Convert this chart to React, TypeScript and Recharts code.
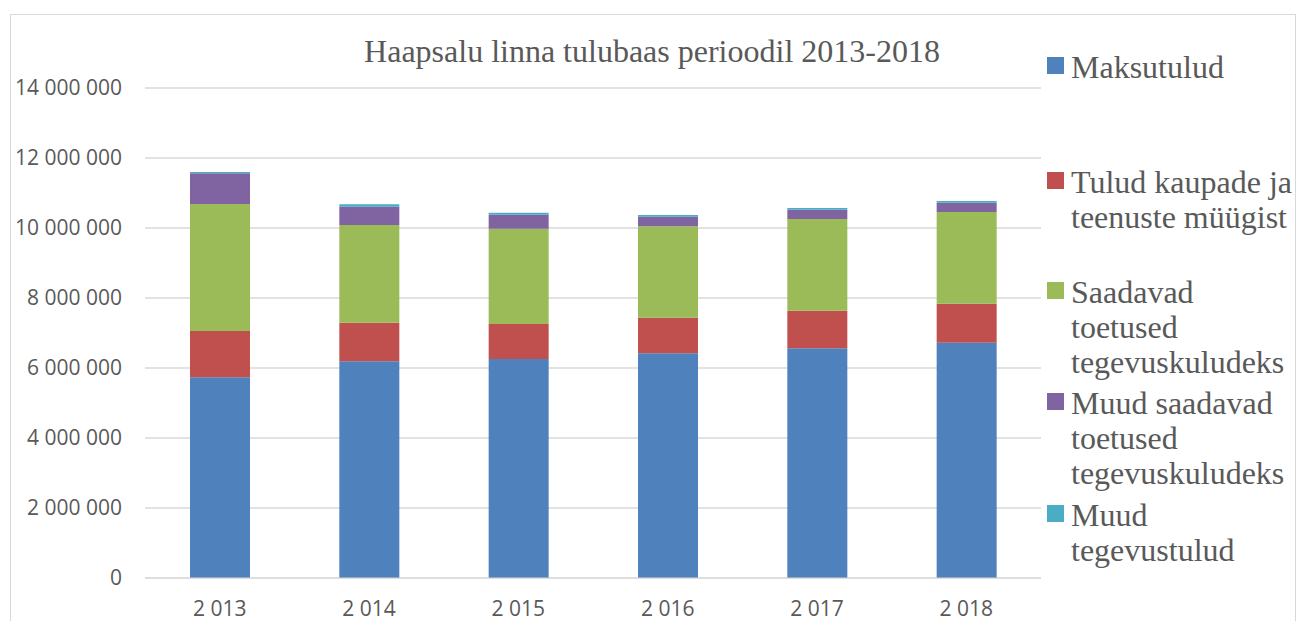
import { BarChart, Bar, XAxis, YAxis, CartesianGrid } from "recharts"

const years = ["2 013", "2 014", "2 015", "2 016", "2 017", "2 018"]
const maksutulud = [5734000, 6190000, 6257000, 6420000, 6562000, 6724000]
const kaupadeMyyk = [1323000, 1105000, 1000000, 1018000, 1076000, 1114000]
const toetused = [3629000, 2790000, 2723000, 2610000, 2619000, 2619000]
const muudToetused = [877000, 524000, 400000, 276000, 267000, 267000]
const muudTulud = [37000, 67000, 57000, 47000, 47000, 47000]
const yTicks = [0, 2000000, 4000000, 6000000, 8000000, 10000000, 12000000, 14000000]

const series = [
  { key: "maksutulud", name: "Maksutulud", color: "#4f81bd", values: maksutulud },
  { key: "kaup", name: "Tulud kaupade ja\nteenuste müügist", color: "#c0504d", values: kaupadeMyyk },
  { key: "toetused", name: "Saadavad\ntoetused\ntegevuskuludeks", color: "#9bbb59", values: toetused },
  { key: "muudToetused", name: "Muud saadavad\ntoetused\ntegevuskuludeks", color: "#8064a2", values: muudToetused },
  { key: "muudTulud", name: "Muud\ntegevustulud", color: "#4bacc6", values: muudTulud },
]

// legend rows sit where excel spread them, not evenly
const legendTops = [42, 157, 267, 378, 490]

const data = years.map((year, i) => {
  const row: Record<string, string | number> = { year }
  series.forEach((s) => (row[s.key] = s.values[i]))
  return row
})

const fmt = (v: number) => String(v).replace(/\B(?=(\d{3})+(?!\d))/g, " ")

const tickStyle = { fill: "#595959", fontSize: 21, fontFamily: "'Open Sans', sans-serif" }

function ExcelLegend() {
  return (
    <div style={{ position: "absolute", left: 1039, top: 0, width: 250, height: 600 }}>
      {series.map((s, i) => (
        <div
          key={s.key}
          style={{ position: "absolute", left: 0, top: legendTops[i], display: "flex" }}
        >
          <div style={{ width: 17, height: 17, background: s.color, marginTop: 7, marginRight: 7, flexShrink: 0 }} />
          <div
            style={{
              whiteSpace: "pre",
              fontFamily: "'Liberation Serif', serif",
              fontSize: 32,
              lineHeight: "35px",
              color: "#595959",
            }}
          >
            {s.name}
          </div>
        </div>
      ))}
    </div>
  )
}

export default function App() {
  // fixed so the page never grows a scrollbar
  return (
    <div style={{ position: "fixed", left: 0, top: 0, width: 1296, height: 621, overflow: "hidden", background: "#fff" }}>
      <div style={{ position: "absolute", left: 8, top: 8, width: 1288, height: 613, overflow: "hidden" }}>
        <div
          style={{
            position: "absolute",
            left: 2,
            top: 6,
            width: 1284,
            height: 700,
            border: "1px solid #d9d9d9",
          }}
        />
        <div style={{ position: "absolute", left: 0, top: 0 }}>
          <BarChart
            width={1288}
            height={613}
            data={data}
            margin={{ top: 80, right: 255, left: 0, bottom: 13 }}
            barSize={60}
          >
            <CartesianGrid vertical={false} stroke="#d9d9d9" strokeWidth={1.5} />
            <XAxis
              dataKey="year"
              height={30}
              stroke="#d9d9d9"
              tickLine={false}
              tickSize={0}
              tickMargin={23}
              tick={tickStyle}
            />
            <YAxis
              width={137}
              domain={[0, 14000000]}
              ticks={yTicks}
              axisLine={false}
              tickLine={false}
              tickSize={0}
              tickMargin={23}
              tickFormatter={fmt}
              tick={tickStyle}
            />
            {series.map((s) => (
              <Bar
                key={s.key}
                dataKey={s.key}
                name={s.name}
                stackId="a"
                fill={s.color}
                isAnimationActive={false}
              />
            ))}
          </BarChart>
        </div>
        <div
          style={{
            position: "absolute",
            left: 0,
            width: 1288,
            top: 25,
            textAlign: "center",
            fontFamily: "'Liberation Serif', serif",
            fontSize: 32,
            color: "#595959",
          }}
        >
          Haapsalu linna tulubaas perioodil 2013-2018
        </div>
        <ExcelLegend />
      </div>
    </div>
  )
}
